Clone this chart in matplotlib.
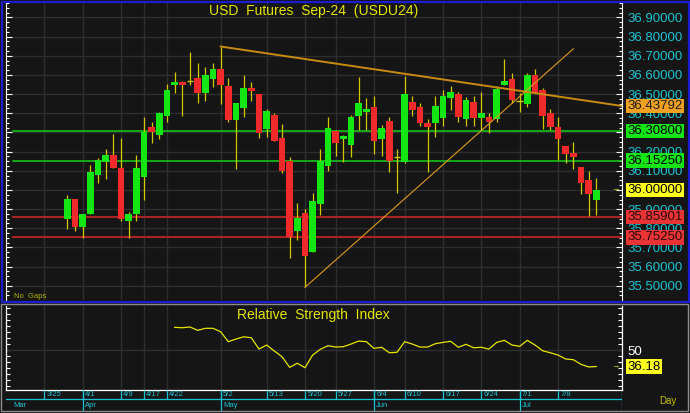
import matplotlib
matplotlib.use('Agg')
import matplotlib.pyplot as plt
from matplotlib.patches import Rectangle
from matplotlib.ticker import MultipleLocator, FuncFormatter
import numpy as np

plt.rcParams['font.family'] = ['Liberation Sans', 'DejaVu Sans']

# daily OHLC for USDU24, bar 0 = 3/27
opens = [35.849, 35.951, 35.809, 35.876, 36.078, 36.148, 36.183, 36.113, 35.838, 35.876,
         36.069, 36.330, 36.287, 36.386, 36.548, 36.562, 36.568, 36.583, 36.508, 36.578,
         36.630, 36.543, 36.365, 36.426, 36.530, 36.501, 36.317, 36.391, 36.273, 36.151,
         35.788, 35.882, 35.678, 35.927, 36.127, 36.308, 36.268, 36.236, 36.388, 36.408,
         36.431, 36.266, 36.360, 36.170, 36.148, 36.461, 36.431, 36.351, 36.348, 36.377,
         36.478, 36.501, 36.369, 36.461, 36.377, 36.379, 36.369, 36.548, 36.579, 36.462,
         36.449, 36.600, 36.522, 36.400, 36.330, 36.230, 36.191, 36.122, 36.052, 35.948]
highs = [35.974, 35.953, 35.876, 36.130, 36.165, 36.212, 36.291, 36.270, 35.884, 36.183,
         36.379, 36.353, 36.405, 36.551, 36.614, 36.570, 36.721, 36.661, 36.640, 36.661,
         36.748, 36.583, 36.455, 36.600, 36.562, 36.501, 36.423, 36.403, 36.344, 36.174,
         35.934, 35.899, 35.983, 36.212, 36.379, 36.313, 36.285, 36.391, 36.591, 36.481,
         36.490, 36.339, 36.382, 36.212, 36.595, 36.490, 36.452, 36.370, 36.490, 36.522,
         36.543, 36.510, 36.484, 36.490, 36.510, 36.400, 36.543, 36.682, 36.609, 36.504,
         36.612, 36.630, 36.534, 36.421, 36.379, 36.230, 36.249, 36.122, 36.101, 36.061]
lows = [35.797, 35.788, 35.751, 35.874, 36.038, 36.057, 36.116, 35.838, 35.751, 35.838,
        35.948, 36.247, 36.266, 36.356, 36.508, 36.386, 36.548, 36.455, 36.466, 36.539,
        36.449, 36.356, 36.108, 36.379, 36.466, 36.270, 36.278, 36.257, 36.087, 35.647,
        35.739, 35.492, 35.678, 35.870, 36.099, 36.179, 36.148, 36.171, 36.313, 36.313,
        36.188, 36.177, 36.095, 35.986, 36.139, 36.388, 36.334, 36.095, 36.278, 36.334,
        36.417, 36.356, 36.335, 36.334, 36.313, 36.299, 36.356, 36.548, 36.452, 36.408,
        36.431, 36.508, 36.318, 36.313, 36.156, 36.139, 36.108, 35.978, 35.864, 35.870]
closes = [35.951, 35.809, 35.873, 36.092, 36.156, 36.183, 36.116, 35.847, 35.873, 36.113,
          36.301, 36.301, 36.400, 36.522, 36.562, 36.548, 36.568, 36.508, 36.600, 36.630,
          36.548, 36.365, 36.452, 36.530, 36.518, 36.299, 36.412, 36.257, 36.099, 35.756,
          35.852, 35.657, 35.943, 36.153, 36.322, 36.247, 36.282, 36.379, 36.452, 36.421,
          36.257, 36.322, 36.151, 36.170, 36.501, 36.417, 36.348, 36.327, 36.440, 36.490,
          36.510, 36.379, 36.469, 36.377, 36.400, 36.356, 36.527, 36.570, 36.469, 36.462,
          36.600, 36.508, 36.388, 36.327, 36.266, 36.188, 36.171, 36.038, 35.978, 36.000]

# RSI starts at bar 14
rsi_start = 14
rsi = [69.0, 68.7, 69.3, 66.5, 68.2, 68.2, 65.3, 57.0, 59.2, 61.1,
       60.3, 50.8, 54.2, 49.2, 44.4, 35.5, 38.9, 35.2, 45.8, 50.6,
       53.6, 52.5, 52.8, 55.0, 57.5, 57.0, 51.4, 52.3, 47.7, 48.1,
       57.0, 55.0, 52.5, 52.5, 55.3, 56.4, 57.3, 52.3, 54.8, 51.9,
       52.3, 50.8, 56.4, 58.1, 54.2, 53.1, 58.1, 54.2, 49.4, 47.7,
       45.8, 42.5, 41.9, 38.0, 35.8, 36.18]

date_ticks = [-3, 2, 7, 10, 13, 20, 26, 31, 35, 40, 44, 49, 54, 59, 64]
date_labels = ['3/25', '4/1', '4/9', '4/17', '4/22', '5/2', '5/13', '5/20', '5/27',
               '6/4', '6/10', '6/17', '6/24', '7/1', '7/8']
month_pos = [-8, 2, 20, 40, 59]
month_labels = ['Mar', 'Apr', 'May', 'Jun', 'Jul']

green_levels = [36.308, 36.1525]
red_levels = [35.85901, 35.7525]
trend_down_x = [20, 72.35]
trend_down_y = [36.748, 36.43792]
trend_up_x = [31, 66]
trend_up_y = [35.492, 36.736]
last_price = 36.0
last_rsi = 36.18

W, H = 690, 413
bg = '#151515'
grid_c = '#2e2e2e'
cyan = '#19c3d3'
yellow = '#e6e600'
wick_c = '#d2c800'


def px_rect(x0, y0, x1, y1):
    return [x0 / W, (H - y1) / H, (x1 - x0) / W, (y1 - y0) / H]


fig = plt.figure(figsize=(W / 100, H / 100), dpi=100, facecolor=bg)
xlim = (-8.0, 72.35)

# ---- price pane
ax = fig.add_axes(px_rect(6, 3, 622, 300), facecolor=bg)
ax.set_xlim(xlim)
ax.set_ylim(35.426, 36.975)
for s in ['top', 'bottom']:
    ax.spines[s].set_visible(False)
for s in ['left', 'right']:
    ax.spines[s].set_color('white')
    ax.spines[s].set_linewidth(0.8)
ax.set_xticks(date_ticks)
ax.tick_params(axis='x', length=0, labelbottom=False)
ax.yaxis.set_major_locator(MultipleLocator(0.1))
ax.yaxis.set_minor_locator(MultipleLocator(0.025))
ax.yaxis.set_major_formatter(FuncFormatter(lambda v, p: f'{v:.5f}'))
ax.tick_params(axis='y', which='both', direction='in', color='white', left=True, right=True,
               labelleft=False, labelright=True, labelcolor=cyan, labelsize=9.5, pad=4)
ax.tick_params(axis='y', which='major', length=4, width=0.8)
ax.tick_params(axis='y', which='minor', length=2, width=0.8)
ax.grid(True, color=grid_c, lw=1.0)
ax.set_axisbelow(True)

o = np.array(opens)
c = np.array(closes)
x = np.arange(len(opens))
up = c > o
dn = c < o
dj = c == o
ax.vlines(x, lows, highs, color=wick_c, lw=0.9, zorder=3)
ax.bar(x[up], (c - o)[up], bottom=o[up], width=0.85, color='#14e614', zorder=4)
ax.bar(x[dn], (c - o)[dn], bottom=o[dn], width=0.85, color='#f02a2a', zorder=4)
ax.hlines(o[dj], x[dj] - 0.42, x[dj] + 0.42, color=wick_c, lw=1.0, zorder=4)

for lv in green_levels:
    ax.axhline(lv, xmin=0.011, color='#14d214', lw=1.1, zorder=2)
for lv in red_levels:
    ax.axhline(lv, xmin=0.011, color='#a82424', lw=1.5, zorder=2)
ax.plot(trend_down_x, trend_down_y, color='#c98a12', lw=1.4, zorder=5)
ax.plot(trend_up_x, trend_up_y, color='#dc9a1e', lw=0.8, zorder=5)

ytr = ax.get_yaxis_transform()
lab_x = (627 - 6) / 616
boxes = [(trend_down_y[-1], '#f0a020', '#1a1a1a')]
boxes += [(lv, '#14e614', '#000000') for lv in green_levels]
boxes += [(last_price, '#ffff1e', '#000000')]
boxes += [(lv, '#e83434', '#2a0a0a') for lv in red_levels]
for val, fc, tc in boxes:
    ax.text(lab_x, val, f'{val:.5f}', transform=ytr, ha='left', va='center', fontsize=9.5,
            color=tc, clip_on=False, zorder=6,
            bbox=dict(boxstyle='square,pad=0.1', fc=fc, ec='none'))
ax.text((615 - 6) / 616, last_price, '→', transform=ytr, ha='center', va='center',
        fontsize=6, color=yellow, clip_on=False)

# ---- RSI pane
ax_r = fig.add_axes(px_rect(6, 306, 622, 390), facecolor=bg)
ax_r.set_xlim(xlim)
ax_r.set_ylim(16.5, 86.9)
ax_r.spines['top'].set_visible(False)
for s in ['left', 'right', 'bottom']:
    ax_r.spines[s].set_color('white')
    ax_r.spines[s].set_linewidth(0.9)
ax_r.set_xticks(date_ticks)
ax_r.tick_params(axis='x', length=0, labelbottom=False)
ax_r.grid(True, axis='x', color=grid_c, lw=1.0)
ax_r.axhline(50, color=grid_c, lw=1.0, zorder=1)
ax_r.set_axisbelow(True)
ax_r.yaxis.set_major_locator(MultipleLocator(5))
ax_r.yaxis.set_major_formatter(FuncFormatter(lambda v, p: '50' if abs(v - 50) < 0.1 else ''))
ax_r.tick_params(axis='y', direction='in', color='white', left=True, right=True, length=3,
                 width=0.8, labelleft=False, labelright=True, labelcolor='white',
                 labelsize=9.5, pad=4)
ax_r.plot(np.arange(rsi_start, rsi_start + len(rsi)), rsi, color=yellow, lw=0.9, zorder=3)
ytr_r = ax_r.get_yaxis_transform()
ax_r.text(lab_x, last_rsi, f'{last_rsi:.2f}', transform=ytr_r, ha='left', va='center',
          fontsize=9.5, color='black', clip_on=False, zorder=6,
          bbox=dict(boxstyle='square,pad=0.1', fc='#ffff1e', ec='none'))
ax_r.text((615 - 6) / 616, last_rsi, '→', transform=ytr_r, ha='center', va='center',
          fontsize=6, color=yellow, clip_on=False)

# ---- date strip
ax_d = fig.add_axes(px_rect(6, 390, 622, 411), facecolor=bg)
ax_d.set_xlim(xlim)
ax_d.set_ylim(0, 1)
ax_d.axis('off')
ax_d.axhline(0.57, color=cyan, lw=0.9)
ax_d.vlines(date_ticks, 0.57, 1, color=cyan, lw=0.9)
ax_d.vlines(month_pos[1:], 0, 1, color=cyan, lw=0.9)
ax_d.axvline(xlim[1], color=cyan, lw=0.9)
for t, lab in zip(date_ticks, date_labels):
    ax_d.text(t + 0.3, 0.77, lab, ha='left', va='center', fontsize=5.5, color=cyan)
for t, lab in zip(month_pos, month_labels):
    ax_d.text(t + 1.0 if t == month_pos[0] else t + 0.3, 0.27, lab, ha='left', va='center',
              fontsize=5.5, color=cyan)

# ---- titles and frame
fig.text(314 / W, 1 - 11 / H, 'USD  Futures  Sep-24  (USDU24)', ha='center', va='center',
         fontsize=10, color=yellow)
fig.text(313 / W, 1 - 315 / H, 'Relative  Strength  Index', ha='center', va='center',
         fontsize=10, color=yellow)
fig.text(14 / W, 1 - 296 / H, 'No  Gaps', ha='left', va='center', fontsize=5.5, color='#b4b400')
fig.text(668 / W, 1 - 401 / H, 'Day', ha='center', va='center', fontsize=7, color='#c8c000')

fig.add_artist(Rectangle((1.5 / W, 1 - 301.5 / H), 687 / W, 300 / H, transform=fig.transFigure,
                         fill=False, ec='#1c1cd0', lw=1.6))
fig.add_artist(Rectangle((1 / W, 1 - 411 / H), 687 / W, 107 / H, transform=fig.transFigure,
                         fill=False, ec='#8c8c8c', lw=1.0))

fig.savefig('out.png', dpi=100, facecolor=bg)
